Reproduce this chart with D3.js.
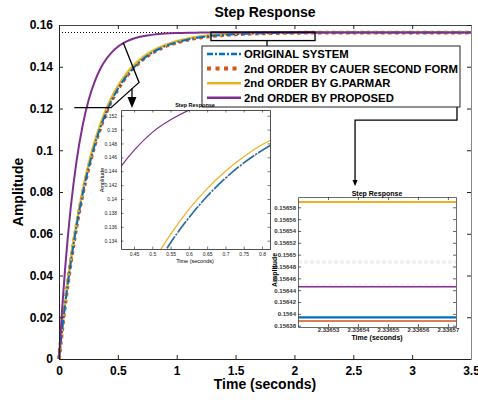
<!DOCTYPE html>
<html><head><meta charset="utf-8">
<script src="https://cdn.jsdelivr.net/npm/d3@7"></script>
<style>
html,body{margin:0;padding:0;background:#fff;}
svg{display:block;font-family:"Liberation Sans",Arial,sans-serif;}
</style></head>
<body>
<svg id="chart" width="478" height="400"></svg>
<script>
// ---------- DATA ----------
const time = [0,0.025,0.05,0.075,0.1,0.15,0.2,0.25,0.3,0.35,0.4,0.45,0.5,0.55,0.6,0.65,0.7,0.75,0.8,0.85,0.9,1.0,1.1,1.2,1.3,1.4,1.5,1.6,1.8,2.0,2.2,2.6,3.0,3.5];
const original = [0,0.0131,0.0252,0.0362,0.0463,0.0640,0.0788,0.0913,0.1018,0.1106,0.1180,0.1242,0.1293,0.1337,0.1373,0.1404,0.1430,0.1452,0.1470,0.1485,0.1498,0.1517,0.1531,0.1541,0.1548,0.15525,0.15559,0.15583,0.15612,0.15626,0.156394,0.156394,0.156394,0.156394];
const cauer = [0,0.0130,0.0251,0.0361,0.0462,0.0639,0.0787,0.0912,0.1017,0.1105,0.1179,0.1241,0.1292,0.1336,0.1372,0.1403,0.1429,0.1451,0.1469,0.1484,0.1497,0.1516,0.1530,0.1540,0.1547,0.15522,0.15556,0.15580,0.15610,0.15624,0.156388,0.156388,0.156388,0.156388];
const parmar = [0,0.01347,0.0258,0.0370,0.0473,0.0653,0.0803,0.0929,0.1034,0.1121,0.1195,0.1256,0.1307,0.1349,0.1385,0.1415,0.1440,0.1461,0.1478,0.1492,0.1504,0.1523,0.1536,0.1545,0.15513,0.15557,0.15588,0.15609,0.15635,0.15647,0.156589,0.156589,0.156589,0.156589];
const proposed = [0,0.0226,0.0420,0.0585,0.0727,0.0952,0.1116,0.1237,0.1324,0.1389,0.1436,0.1470,0.1496,0.1514,0.1528,0.1538,0.1545,0.15501,0.15539,0.15568,0.15588,0.15614,0.15628,0.15636,0.15640,0.15642,0.15644,0.156446,0.156446,0.156446,0.156446,0.156446,0.156446,0.156446];
const seriesNames = ["ORIGINAL SYSTEM","2nd ORDER BY CAUER SECOND FORM","2nd ORDER BY G.PARMAR","2nd ORDER BY PROPOSED"];
const steadyValue = 0.1564;

const xTicks = [0,0.5,1,1.5,2,2.5,3,3.5];
const xTickLabels = ["0","0.5","1","1.5","2","2.5","3","3.5"];
const yTicks = [0,0.02,0.04,0.06,0.08,0.1,0.12,0.14,0.16];
const yTickLabels = ["0","0.02","0.04","0.06","0.08","0.1","0.12","0.14","0.16"];

const in1XTicks = [0.45,0.5,0.55,0.6,0.65,0.7,0.75,0.8];
const in1XLabels = ["0.45","0.5","0.55","0.6","0.65","0.7","0.75","0.8"];
const in1YTicks = [0.134,0.136,0.138,0.14,0.142,0.144,0.146,0.148,0.15,0.152];
const in1YLabels = ["0.134","0.136","0.138","0.14","0.142","0.144","0.146","0.148","0.15","0.152"];

const in2XTicks = [2.33653,2.33654,2.33655,2.33656,2.33657];
const in2XLabels = ["2.33653","2.33654","2.33655","2.33656","2.33657"];
const in2YTicks = [0.15638,0.1564,0.15642,0.15644,0.15646,0.15648,0.1565,0.15652,0.15654,0.15656,0.15658];
const in2YLabels = ["0.15638","0.1564","0.15642","0.15644","0.15646","0.15648","0.1565","0.15652","0.15654","0.15656","0.15658"];
const in2RefLines = [0.156489,0.156486,0.156449];

// ---------- SETUP ----------
const svg = d3.select("#chart");
const FONT = '"Liberation Sans",Arial,sans-serif';
const colors = {orig:"#0072BD", cauer:"#D95319", parmar:"#EDB120", prop:"#7E2F8E"};
const series = [
  {key:"orig", vals:original},
  {key:"cauer", vals:cauer},
  {key:"parmar", vals:parmar},
  {key:"prop", vals:proposed}
];
const styles = {
  main: {
    cauer:{w:3.8, dash:"3.5,3.5"}, parmar:{w:2.4, dash:null}, orig:{w:2, dash:"9,2,2,2"}, prop:{w:2, dash:null}
  },
  in1: {
    parmar:{w:1.2, dash:null}, orig:{w:1.6, dash:"14,1.5,2,1.5"}, cauer:{w:0.9, dash:"1.5,2"}, prop:{w:1.2, dash:null}
  },
  in2: {
    parmar:{w:2, dash:null}, prop:{w:1.5, dash:null}, orig:{w:2.2, dash:"6,2,2,2"}, cauer:{w:1.4, dash:"1.5,1.5"}
  }
};

const M = {l:59, r:471, t:25, b:359};
const x = d3.scaleLinear().domain([0,3.5]).range([M.l,M.r]);
const y = d3.scaleLinear().domain([0,0.16]).range([M.b,M.t]);

function drawSeries(g, xs, ys, order, st, clipId){
  const line = d3.line().x((d,i)=>xs(time[i])).y(d=>ys(d)).curve(d3.curveMonotoneX);
  const gg = g.append("g");
  if(clipId) gg.attr("clip-path",`url(#${clipId})`);
  order.forEach(k=>{
    const s = series.find(q=>q.key===k);
    gg.append("path").datum(s.vals).attr("d",line)
      .attr("fill","none").attr("stroke",colors[k])
      .attr("stroke-width",st[k].w)
      .attr("stroke-dasharray",st[k].dash);
  });
}

// ---------- MAIN AXES ----------
svg.append("rect").attr("x",M.l).attr("y",M.t).attr("width",M.r-M.l).attr("height",M.b-M.t).attr("fill","#fff");

svg.append("line").attr("x1",x(0)).attr("x2",x(3.5)).attr("y1",y(steadyValue)).attr("y2",y(steadyValue))
  .attr("stroke","#000").attr("stroke-width",1).attr("stroke-dasharray","1,2");

drawSeries(svg, x, y, ["cauer","parmar","orig","prop"], styles.main, null);

const axB = svg.append("g").attr("transform",`translate(0,${M.b})`)
  .call(d3.axisBottom(x).tickValues(xTicks).tickFormat((d,i)=>xTickLabels[i]).tickSize(-4).tickSizeOuter(0).tickPadding(7));
const axL = svg.append("g").attr("transform",`translate(${M.l},0)`)
  .call(d3.axisLeft(y).tickValues(yTicks).tickFormat((d,i)=>yTickLabels[i]).tickSize(-4).tickSizeOuter(0).tickPadding(6));
const axT = svg.append("g").attr("transform",`translate(0,${M.t})`)
  .call(d3.axisTop(x).tickValues(xTicks).tickFormat("").tickSize(-4).tickSizeOuter(0));
const axR = svg.append("g").attr("transform",`translate(${M.r},0)`)
  .call(d3.axisRight(y).tickValues(yTicks).tickFormat("").tickSize(-4).tickSizeOuter(0));
[axB,axL].forEach(a=>a.selectAll("text").attr("font-size",12).attr("font-weight","bold").attr("fill","#000").attr("font-family",FONT));
[axB,axL,axT,axR].forEach(a=>{a.selectAll("line").attr("stroke","#222"); a.select(".domain").attr("stroke","#222");});
axR.select(".domain").attr("stroke","#888");
axT.select(".domain").attr("stroke","#444");

svg.append("text").attr("x",(M.l+M.r)/2).attr("y",17).attr("text-anchor","middle")
  .attr("font-size",14).attr("font-weight","bold").text("Step Response");
svg.append("text").attr("x",(M.l+M.r)/2).attr("y",389).attr("text-anchor","middle")
  .attr("font-size",14).attr("font-weight","bold").text("Time (seconds)");
svg.append("text").attr("transform",`translate(23,${(M.t+M.b)/2}) rotate(-90)`).attr("text-anchor","middle")
  .attr("font-size",14).attr("font-weight","bold").text("Amplitude");

// ---------- ANNOTATIONS (in data units) ----------
const ann = svg.append("g").attr("stroke","#000").attr("fill","none").attr("stroke-width",1.3);
const poly1 = [[0.546,0.1515],[0.680,0.1325],[0.442,0.1204],[0.130,0.1204]];
ann.append("path").attr("d",d3.line().x(d=>x(d[0])).y(d=>y(d[1]))(poly1));
ann.append("line").attr("x1",x(0.62)).attr("x2",x(0.62)).attr("y1",y(0.1296)).attr("y2",y(0.1245));
svg.append("path").attr("d",`M${x(0.62)-4.5},${y(0.1255)} L${x(0.62)+4.5},${y(0.1255)} L${x(0.62)},${y(0.1202)} Z`).attr("fill","#000");

ann.append("rect").attr("x",x(1.291)).attr("y",y(0.1566)).attr("width",x(2.175)-x(1.291)).attr("height",y(0.15254)-y(0.1566));
const poly2 = [[1.767,0.15254],[1.767,0.14847],[3.381,0.14847],[3.381,0.11446],[2.515,0.11446],[2.515,0.0855]];
ann.append("path").attr("d",d3.line().x(d=>x(d[0])).y(d=>y(d[1]))(poly2));
svg.append("path").attr("d",`M${x(2.515)-2.5},${y(0.0858)} L${x(2.515)+2.5},${y(0.0858)} L${x(2.515)},${y(0.0828)} Z`).attr("fill","#000");

// ---------- LEGEND ----------
const lg = svg.append("g");
lg.append("rect").attr("x",202).attr("y",46).attr("width",258).attr("height",61).attr("fill","#fff").attr("stroke","#222").attr("stroke-width",1);
const legOrder = ["orig","cauer","parmar","prop"];
const legStyle = {orig:{w:2.5,dash:"6,2,2,2"}, cauer:{w:4,dash:"4,4.5"}, parmar:{w:2.5,dash:null}, prop:{w:2.5,dash:null}};
legOrder.forEach((k,i)=>{
  const yy = 54 + i*14.6;
  lg.append("line").attr("x1",207).attr("x2",241).attr("y1",yy).attr("y2",yy)
    .attr("stroke",colors[k]).attr("stroke-width",legStyle[k].w).attr("stroke-dasharray",legStyle[k].dash);
  lg.append("text").attr("x",244).attr("y",yy+4).attr("font-size",11.3).attr("font-weight","bold").text(seriesNames[i]);
});

// ---------- INSETS ----------
function inset(opts){
  const g = svg.append("g");
  const {x0,x1,y0,y1,xd,yd,id} = opts;
  const xs = d3.scaleLinear().domain(xd).range([x0,x1]);
  const ys = d3.scaleLinear().domain(yd).range([y1,y0]);
  g.append("rect").attr("x",x0).attr("y",y0).attr("width",x1-x0).attr("height",y1-y0).attr("fill","#fff");
  svg.append("defs").append("clipPath").attr("id",id).append("rect")
    .attr("x",x0).attr("y",y0).attr("width",x1-x0).attr("height",y1-y0);
  return {g,xs,ys};
}

const I1 = inset({x0:121,x1:270,y0:110,y1:249,xd:[0.4144,0.8219],yd:[0.1328,0.15282],id:"c1"});
drawSeries(I1.g, I1.xs, I1.ys, ["parmar","orig","cauer","prop"], styles.in1, "c1");
(function(){
  const {g,xs,ys} = I1;
  const b = g.append("g").attr("transform","translate(0,249)").call(d3.axisBottom(xs).tickValues(in1XTicks).tickFormat((d,i)=>in1XLabels[i]).tickSize(-2.5).tickSizeOuter(0).tickPadding(3));
  const l = g.append("g").attr("transform","translate(121,0)").call(d3.axisLeft(ys).tickValues(in1YTicks).tickFormat((d,i)=>in1YLabels[i]).tickSize(-2.5).tickSizeOuter(0).tickPadding(4));
  const t = g.append("g").attr("transform","translate(0,110)").call(d3.axisTop(xs).tickValues(in1XTicks).tickFormat("").tickSize(-2.5).tickSizeOuter(0));
  const r = g.append("g").attr("transform","translate(270,0)").call(d3.axisRight(ys).tickValues(in1YTicks).tickFormat("").tickSize(-2.5).tickSizeOuter(0));
  [b,l].forEach(a=>a.selectAll("text").attr("font-size",5).attr("fill","#222").attr("font-family",FONT));
  [b,l,t,r].forEach(a=>{a.selectAll("line").attr("stroke","#222").attr("stroke-width",0.6); a.select(".domain").attr("stroke","#222").attr("stroke-width",0.8);});
  g.append("text").attr("x",195).attr("y",107).attr("text-anchor","middle").attr("font-size",5.5).attr("font-weight","bold").text("Step Response");
  g.append("text").attr("x",195).attr("y",263).attr("text-anchor","middle").attr("font-size",5.5).text("Time (seconds)");
  g.append("text").attr("transform","translate(104,180) rotate(-90)").attr("text-anchor","middle").attr("font-size",5.5).text("Amplitude");
})();

const I2 = inset({x0:298,x1:456,y0:197,y1:327,xd:[2.33652,2.3365727],yd:[0.1563778,0.1565974],id:"c2"});
(function(){
  const {g,xs,ys} = I2;
  const rg = g.append("g").attr("clip-path","url(#c2)");
  in2RefLines.forEach(v=>{
    rg.append("line").attr("x1",xs.range()[0]).attr("x2",xs.range()[1]).attr("y1",ys(v)).attr("y2",ys(v))
      .attr("stroke","#dcdcdc").attr("stroke-width",0.7).attr("stroke-dasharray","4,2");
  });
})();
drawSeries(I2.g, I2.xs, I2.ys, ["parmar","prop","orig","cauer"], styles.in2, "c2");
(function(){
  const {g,xs,ys} = I2;
  const b = g.append("g").attr("transform","translate(0,327)").call(d3.axisBottom(xs).tickValues(in2XTicks).tickFormat((d,i)=>in2XLabels[i]).tickSize(-3).tickSizeOuter(0).tickPadding(1));
  const l = g.append("g").attr("transform","translate(298,0)").call(d3.axisLeft(ys).tickValues(in2YTicks).tickFormat((d,i)=>in2YLabels[i]).tickSize(-3).tickSizeOuter(0).tickPadding(2));
  const t = g.append("g").attr("transform","translate(0,197)").call(d3.axisTop(xs).tickValues(in2XTicks).tickFormat("").tickSize(-3).tickSizeOuter(0));
  const r = g.append("g").attr("transform","translate(456,0)").call(d3.axisRight(ys).tickValues(in2YTicks).tickFormat("").tickSize(-3).tickSizeOuter(0));
  [b,l].forEach(a=>a.selectAll("text").attr("font-size",6).attr("font-weight","bold").attr("fill","#333").attr("font-family",FONT));
  [b,l,t,r].forEach(a=>{a.selectAll("line").attr("stroke","#222").attr("stroke-width",0.7); a.select(".domain").attr("stroke","#444").attr("stroke-width",0.8);});
  g.append("text").attr("x",377).attr("y",196).attr("text-anchor","middle").attr("font-size",7).attr("font-weight","bold").text("Step Response");
  g.append("text").attr("x",377).attr("y",340).attr("text-anchor","middle").attr("font-size",7).attr("font-weight","bold").text("Time (seconds)");
  g.append("text").attr("transform","translate(277,270) rotate(-90)").attr("text-anchor","middle").attr("font-size",7).attr("font-weight","bold").text("Amplitude");
})();
</script>
</body></html>
